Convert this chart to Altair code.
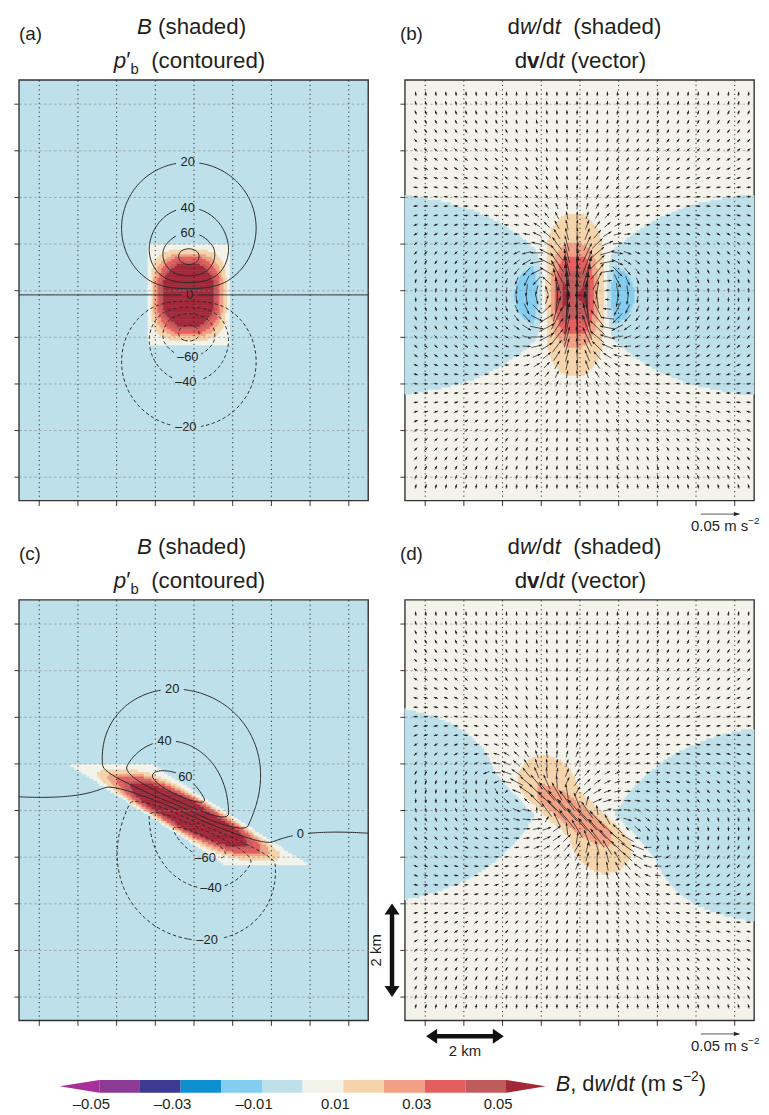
import numpy as np
import pandas as pd
import altair as alt
from collections import defaultdict

FONT = "Liberation Sans"
INK = "#231f20"
PW, PH = 352, 424

# ---------------- values ----------------
DOMAIN_KM = [0.0, 9.0]
GRID_KM = [0.5, 1.5, 2.5, 3.5, 4.5, 5.5, 6.5, 7.5, 8.5]
BOX_CENTER_KM = [4.38, 4.40]      # centre of the buoyant box (x, z)
BOX_HALF_KM = [1.06, 1.06]        # half width, half depth
MODEL_BOTTOM_KM = -0.10           # rigid levels (p' = 0) at -0.1 km and 8.9 km
MODEL_DEPTH_KM = 9.0
TILT_A = 0.0                      # upright box, panels (a, b)
TILT_C = -1.88                    # km of horizontal shift per km of height, panels (c, d)
B_PEAK = 0.097                    # m s-2
B_RAMP = 0.737                    # fraction of the half width over which B rises from 0
P_PEAK = 84.0                     # Pa, peak of p'_b in panel (a)
P_LEVELS = [-80, -60, -40, -20, 0, 20, 40, 60, 80]
P_LABELS_A = [(20, 4.35, 7.11), (40, 4.37, 6.11), (60, 4.37, 5.63), (0, 4.40, 4.37),
              (-60, 4.37, 3.10), (-40, 4.32, 2.53), (-20, 4.30, 1.55)]
P_LABELS_C = [(20, 3.94, 6.88), (40, 3.78, 5.77), (60, 4.24, 5.14), (0, 7.26, 3.86),
              (-60, 4.81, 3.52), (-40, 4.93, 2.85), (-20, 4.86, 1.78)]
THRESHOLDS = [-0.05, -0.04, -0.03, -0.02, -0.01, 0.0, 0.01, 0.02, 0.03, 0.04, 0.05]
PALETTE = ["#a8309a", "#8d3a96", "#3d3a91", "#0d8fd0", "#83cdf0", "#bde0eb",
           "#f4f3eb", "#f5d4ab", "#f1a084", "#e55e5e", "#c05b5b", "#a3283a"]
CBAR_LABELS = [-0.05, -0.03, -0.01, 0.01, 0.03, 0.05]
BG_BIN_B = 5      # colour of B <= 0  (panels a, c)
BG_BIN_W = 6      # colour of 0 < dw/dt <= 0.01 (panels b, d)
VEC_COL_START, VEC_COL_STEP, VEC_NCOL = 0.28, 0.26, 34
VEC_ROW_START, VEC_ROW_STEP, VEC_NROW = 0.30, 0.20, 43
VEC_REF = 0.05        # m s-2 reference vector
VEC_REF_PX = 39.0     # its length
VEC_MIN_PX = 4.5      # shortest drawn vector
REF_ARROW_KM = [8.13, -0.29]
SCALEBAR_V_KM = [-0.33, 0.5, 2.5]     # x, z0, z1
SCALEBAR_H_KM = [-0.34, 0.55, 2.55]   # z, x0, x1

PPX = PW / 9.0
PPZ = PH / 9.0

# ---------------- buoyancy pressure (2-D Poisson, p' = 0 on the rigid levels) ----------------
DX = 0.05
NXF, NZF = 540, 360
J_OFF = int(round(-MODEL_BOTTOM_KM / DX))
xf = -9.0 + DX * np.arange(NXF)
zm = DX * np.arange(NZF)
zfold = np.where(zm <= MODEL_DEPTH_KM, zm, 2 * MODEL_DEPTH_KM - zm) + MODEL_BOTTOM_KM
XF, ZF = np.meshgrid(xf, zfold)
kx = 2 * np.pi * np.fft.fftfreq(NXF, d=DX * 1000.0)
kz = 2 * np.pi * np.fft.fftfreq(NZF, d=DX * 1000.0)
KX, KZ = np.meshgrid(kx, kz)
K2 = KX ** 2 + KZ ** 2
K2[0, 0] = 1.0


def buoyancy(tilt):
    xs = XF - BOX_CENTER_KM[0] - tilt * (ZF - BOX_CENTER_KM[1])
    rx = np.clip((1 - np.abs(xs) / BOX_HALF_KM[0]) / B_RAMP, 0, 1)
    rz = np.clip((1 - np.abs(ZF - BOX_CENTER_KM[1]) / BOX_HALF_KM[1]) / B_RAMP, 0, 1)
    return B_PEAK * rx * rz


def solve(tilt):
    B = buoyancy(tilt)
    Bh = np.fft.fft2(B)
    p = np.real(np.fft.ifft2(-1j * KZ * Bh / K2))
    dpdz = np.real(np.fft.ifft2(KZ * KZ * Bh / K2))
    dpdx = np.real(np.fft.ifft2(KX * KZ * Bh / K2))
    sl = (slice(J_OFF, J_OFF + 181), slice(180, 361))
    return B[sl], p[sl], -dpdx[sl], (B - dpdz)[sl]


Ba, pa, axa, aza = solve(TILT_A)
Bc, pc, axc, azc = solve(TILT_C)
pscale = P_PEAK / pa.max()
pa = pa * pscale
pc = pc * pscale
XS = DX * np.arange(181)
ZS = DX * np.arange(181)
JTOP = int(round(MODEL_DEPTH_KM / DX)) - J_OFF   # display row of the upper rigid level

# ---------------- text metrics ----------------
CW = {' ': 278, '(': 333, ')': 333, '/': 278, ',': 278, '.': 278, '\u2013': 556, '\u2212': 584,
      '\u2032': 191, 'a': 556, 'b': 556, 'c': 500, 'd': 556, 'e': 556, 'h': 556, 'k': 500,
      'm': 833, 'n': 556, 'o': 556, 'p': 556, 'r': 333, 's': 500, 't': 278, 'u': 556,
      'v': 500, 'w': 722, 'B': 667}


def tw(t, size, weight="normal"):
    w = 0
    for ch in t:
        u = CW.get(ch, 556)
        if weight == "bold" and ch == 'v':
            u = 556
        w += u
    return w * size / 1000.0


ONE = pd.DataFrame({"k": [0]})


def runs(pieces, cx, cy, align="center"):
    total = sum(tw(t, s, w) for (t, s, st, w, dy) in pieces)
    x = cx - total / 2 if align == "center" else cx
    out = []
    for (t, s, st, w, dy) in pieces:
        if t.strip():
            out.append(alt.Chart(ONE).mark_text(text=t, font=FONT, fontSize=s, fontStyle=st,
                                                fontWeight=w, align="left", baseline="middle",
                                                color=INK)
                       .encode(x=alt.value(round(x, 2)), y=alt.value(round(cy + dy, 2))))
        x += tw(t, s, w)
    return out


# ---------------- shading, contours, vectors ----------------
def shade_rects(F, bg_bin):
    bins = np.searchsorted(np.array(THRESHOLDS), F, side="left")
    rows = []
    n = F.shape[1]
    for j in range(F.shape[0]):
        z0 = max(0.0, ZS[j] - DX / 2)
        z1 = min(9.0, ZS[j] + DX / 2)
        b = bins[j]
        s = 0
        for i in range(1, n + 1):
            if i == n or b[i] != b[s]:
                if b[s] != bg_bin:
                    rows.append((round(max(0.0, XS[s] - DX / 2), 4), round(min(9.0, XS[i - 1] + DX / 2), 4),
                                 round(z0, 4), round(z1, 4), int(b[s])))
                s = i
    return pd.DataFrame(rows, columns=["x", "x2", "y", "y2", "bin"])


def contour_segments(xs, zs, F, level):
    above = F > level
    a = above[:-1, :-1]
    b = above[:-1, 1:]
    c = above[1:, 1:]
    d = above[1:, :-1]
    code = a * 1 + b * 2 + c * 4 + d * 8
    js, iis = np.nonzero((code != 0) & (code != 15))
    segs = []
    for j, i in zip(js, iis):
        A, Bq, C, D = above[j, i], above[j, i + 1], above[j + 1, i + 1], above[j + 1, i]
        bottom, right, top, left = (0, j, i), (1, j, i + 1), (0, j + 1, i), (1, j, i)
        cr = []
        if A != Bq:
            cr.append(bottom)
        if Bq != C:
            cr.append(right)
        if C != D:
            cr.append(top)
        if D != A:
            cr.append(left)
        if len(cr) == 2:
            segs.append((cr[0], cr[1]))
        elif len(cr) == 4:
            cen = (F[j, i] + F[j, i + 1] + F[j + 1, i + 1] + F[j + 1, i]) / 4 > level
            if cen == A:
                segs += [(bottom, right), (top, left)]
            else:
                segs += [(left, bottom), (right, top)]
    pts = {}
    for sg in segs:
        for key in sg:
            if key in pts:
                continue
            kind, j, i = key
            if kind == 0:
                f0, f1 = F[j, i], F[j, i + 1]
                t = (level - f0) / (f1 - f0)
                pts[key] = (xs[i] + t * (xs[i + 1] - xs[i]), zs[j])
            else:
                f0, f1 = F[j, i], F[j + 1, i]
                t = (level - f0) / (f1 - f0)
                pts[key] = (xs[i], zs[j] + t * (zs[j + 1] - zs[j]))
    return segs, pts


def stitch(segs):
    adj = defaultdict(list)
    for k, (u, v) in enumerate(segs):
        adj[u].append(k)
        adj[v].append(k)
    used = [False] * len(segs)

    def walk(node):
        chain = [node]
        while True:
            nxt = None
            for k in adj[node]:
                if not used[k]:
                    nxt = k
                    break
            if nxt is None:
                break
            used[nxt] = True
            u, v = segs[nxt]
            node = v if u == node else u
            chain.append(node)
        return chain

    chains = []
    for node, ks in list(adj.items()):
        if len(ks) == 1 and not used[ks[0]]:
            chains.append(walk(node))
    for k in range(len(segs)):
        if not used[k]:
            chains.append(walk(segs[k][0]))
    return chains


def label_text(lv):
    return ("\u2013" + str(-lv)) if lv < 0 else str(lv)


def contour_data(P, labels):
    F = P[1:JTOP, :]
    zs = ZS[1:JTOP]
    lab = {lv: (lx, lz) for lv, lx, lz in labels}
    rows, lrows = [], []
    lid = 0
    for lv in P_LEVELS:
        segs, pts = contour_segments(XS, zs, F, lv)
        if not segs:
            continue
        chains = [np.array([pts[nd] for nd in ch]) for ch in stitch(segs)]
        cut = None
        if lv in lab:
            lx, lz = lab[lv]
            best = None
            for ch in chains:
                dd = np.hypot((ch[:, 0] - lx) * PPX, (ch[:, 1] - lz) * PPZ)
                k = int(np.argmin(dd))
                if best is None or dd[k] < best[0]:
                    best = (dd[k], ch[k, 0], ch[k, 1])
            txt = label_text(lv)
            cut = (best[1], best[2], tw(txt, 13) / 2 + 3)
            lrows.append({"x": round(best[1], 4), "y": round(best[2], 4), "txt": txt})
        for ch in chains:
            keep = np.ones(len(ch), bool)
            if cut is not None:
                keep = np.hypot((ch[:, 0] - cut[0]) * PPX, (ch[:, 1] - cut[1]) * PPZ) > cut[2]
            cur = []
            for q in range(len(ch) + 1):
                if q < len(ch) and keep[q]:
                    cur.append(ch[q])
                else:
                    if len(cur) >= 2:
                        for s_, pt in enumerate(cur):
                            rows.append({"x": round(pt[0], 4), "y": round(pt[1], 4), "lid": lid,
                                         "seq": s_, "neg": lv < 0})
                        lid += 1
                    cur = []
    return pd.DataFrame(rows), pd.DataFrame(lrows)


def bilinear(F, x, z):
    fi = x / DX
    fj = z / DX
    i = np.clip(np.floor(fi).astype(int), 0, 179)
    j = np.clip(np.floor(fj).astype(int), 0, 179)
    tx = fi - i
    tz = fj - j
    return (F[j, i] * (1 - tx) * (1 - tz) + F[j, i + 1] * tx * (1 - tz)
            + F[j + 1, i] * (1 - tx) * tz + F[j + 1, i + 1] * tx * tz)


def arrow_frame(cx, cz, ax, az):
    mag = np.hypot(ax, az)
    L = np.maximum(VEC_MIN_PX, mag / VEC_REF * VEC_REF_PX)
    ux = ax / np.maximum(mag, 1e-12)
    uz = az / np.maximum(mag, 1e-12)
    dxp = L * ux
    dzp = L * uz
    hl = np.clip(0.15 * L, 3.0, 6.0)
    return pd.DataFrame({
        "x": np.round(cx - dxp / 2 / PPX, 4), "y": np.round(cz - dzp / 2 / PPZ, 4),
        "x2": np.round(cx + dxp / 2 / PPX, 4), "y2": np.round(cz + dzp / 2 / PPZ, 4),
        "ang": np.round(np.degrees(np.arctan2(dxp, dzp)) % 360, 2),
        "hs": np.round(hl ** 2, 2)})


def vectors(AX, AZ):
    cols = VEC_COL_START + VEC_COL_STEP * np.arange(VEC_NCOL)
    rws = VEC_ROW_START + VEC_ROW_STEP * np.arange(VEC_NROW)
    CX, CZ = np.meshgrid(cols, rws)
    CX = CX.ravel()
    CZ = CZ.ravel()
    return arrow_frame(CX, CZ, bilinear(AX, CX, CZ), bilinear(AZ, CX, CZ))


# ---------------- encodings ----------------
XSCALE = alt.Scale(domain=DOMAIN_KM, nice=False, zero=False)
YSCALE = alt.Scale(domain=DOMAIN_KM, nice=False, zero=False)
XAXIS = alt.Axis(values=GRID_KM, labels=False, title=None, domain=False, ticks=True, tickSize=5,
                 tickColor="#333333", tickWidth=1, grid=True, gridColor="#111111",
                 gridDash=[1.2, 3.3], gridWidth=1, gridOpacity=0.85, zindex=1)
YAXIS = alt.Axis(values=GRID_KM, labels=False, title=None, domain=False, ticks=True, tickSize=5,
                 tickColor="#333333", tickWidth=1, grid=True, gridColor="#8a8a8a",
                 gridDash=[2.5, 2.5], gridWidth=0.8, gridOpacity=0.8, zindex=1)
CSCALE = alt.Scale(domain=list(range(12)), range=PALETTE)
HEAD = "M0,0L-0.75,2L0.75,2Z"
BIGHEAD = "M0,0L-1.1,1.6L1.1,1.6Z"


def xq(f):
    return alt.X(f"{f}:Q", scale=XSCALE, axis=XAXIS)


def yq(f):
    return alt.Y(f"{f}:Q", scale=YSCALE, axis=YAXIS)


def shading_layer(df):
    return alt.Chart(df).mark_rect(strokeWidth=0.6).encode(
        x=xq("x"), x2="x2", y=yq("y"), y2="y2",
        color=alt.Color("bin:O", scale=CSCALE, legend=None),
        stroke=alt.Stroke("bin:O", scale=CSCALE, legend=None))


def contour_layers(lines, labs):
    out = []
    pos = lines[~lines["neg"]]
    neg = lines[lines["neg"]]
    out.append(alt.Chart(pos).mark_line(color="#2b2b2b", strokeWidth=1.0).encode(
        x=xq("x"), y=yq("y"), detail="lid:N", order="seq:Q"))
    out.append(alt.Chart(neg).mark_line(color="#2b2b2b", strokeWidth=1.0, strokeDash=[3.5, 2.5]).encode(
        x=xq("x"), y=yq("y"), detail="lid:N", order="seq:Q"))
    out.append(alt.Chart(labs).mark_text(font=FONT, fontSize=13, color=INK).encode(
        x=xq("x"), y=yq("y"), text="txt:N"))
    return out


def arrow_layers(df, width=0.75):
    return [
        alt.Chart(df).mark_rule(color=INK, strokeWidth=width).encode(
            x=xq("x"), y=yq("y"), x2="x2", y2="y2"),
        alt.Chart(df).mark_point(shape=HEAD, filled=True, color=INK, opacity=1, strokeWidth=0).encode(
            x=xq("x2"), y=yq("y2"), angle=alt.Angle("ang:Q", scale=None),
            size=alt.Size("hs:Q", scale=None)),
    ]


def title_b(letter, dxl):
    L = runs([("(" + letter + ")", 19, "normal", "normal", 0)], dxl, -46.5, align="left")
    L += runs([("B", 22.5, "italic", "normal", 0), (" ", 22.5, "normal", "normal", 0),
               ("(shaded)", 22.5, "normal", "normal", 0)], 174, -53.5)
    L += runs([("p", 22.5, "italic", "normal", 0), ("\u2032", 22.5, "normal", "normal", -1),
               ("b", 15, "normal", "normal", 8), ("  ", 22.5, "normal", "normal", 0),
               ("(contoured)", 22.5, "normal", "normal", 0)], 172, -19)
    return L


def title_w(letter, dxl):
    L = runs([("(" + letter + ")", 19, "normal", "normal", 0)], dxl, -46.5, align="left")
    L += runs([("d", 22.5, "normal", "normal", 0), ("w", 22.5, "italic", "normal", 0),
               ("/d", 22.5, "normal", "normal", 0), ("t", 22.5, "italic", "normal", 0),
               ("  ", 22.5, "normal", "normal", 0), ("(shaded)", 22.5, "normal", "normal", 0)], 181, -53.5)
    L += runs([("d", 22.5, "normal", "normal", 0), ("v", 22.5, "normal", "bold", 0),
               ("/d", 22.5, "normal", "normal", 0), ("t", 22.5, "italic", "normal", 0),
               (" ", 22.5, "normal", "normal", 0), ("(vector)", 22.5, "normal", "normal", 0)], 177, -19)
    return L


def ref_arrow_layers():
    df = arrow_frame(np.array([REF_ARROW_KM[0]]), np.array([REF_ARROW_KM[1]]),
                     np.array([VEC_REF]), np.array([0.0]))
    L = arrow_layers(df)
    L += runs([("0.05 m s", 15, "normal", "normal", 0), ("\u22122", 10, "normal", "normal", -5)],
              323, PH + 26)
    return L


def panel(layers, bg):
    return alt.layer(*layers).properties(
        width=PW, height=PH, view=alt.ViewBackground(fill=bg, stroke="#333333", strokeWidth=1.4))


# panel (a)
la, laba = contour_data(pa, P_LABELS_A)
layers_a = [shading_layer(shade_rects(Ba, BG_BIN_B))] + contour_layers(la, laba) + title_b("a", 0)
layers_a.append(alt.Chart(ONE).mark_point(opacity=0, size=4).encode(x=alt.value(-9), y=alt.value(-66)))
pan_a = panel(layers_a, PALETTE[BG_BIN_B])

# panel (b)
layers_b = [shading_layer(shade_rects(aza, BG_BIN_W))] + arrow_layers(vectors(axa, aza)) \
    + title_w("b", -5) + ref_arrow_layers()
pan_b = panel(layers_b, PALETTE[BG_BIN_W])

# panel (c)
lc, labc = contour_data(pc, P_LABELS_C)
layers_c = [shading_layer(shade_rects(Bc, BG_BIN_B))] + contour_layers(lc, labc) + title_b("c", 0)
pan_c = panel(layers_c, PALETTE[BG_BIN_B])

# panel (d) with 2 km scale bars
sb_v = pd.DataFrame({"x": [SCALEBAR_V_KM[0]], "y": [SCALEBAR_V_KM[1] + 6 / PPZ],
                     "x2": [SCALEBAR_V_KM[0]], "y2": [SCALEBAR_V_KM[2] - 6 / PPZ]})
sb_h = pd.DataFrame({"x": [SCALEBAR_H_KM[1] + 6 / PPX], "y": [SCALEBAR_H_KM[0]],
                     "x2": [SCALEBAR_H_KM[2] - 6 / PPX], "y2": [SCALEBAR_H_KM[0]]})
sb_heads = pd.DataFrame({
    "x": [SCALEBAR_V_KM[0], SCALEBAR_V_KM[0], SCALEBAR_H_KM[1], SCALEBAR_H_KM[2]],
    "y": [SCALEBAR_V_KM[2], SCALEBAR_V_KM[1], SCALEBAR_H_KM[0], SCALEBAR_H_KM[0]],
    "ang": [0, 180, 270, 90]})
sb_text = pd.DataFrame({"x": [SCALEBAR_V_KM[0] - 0.40, (SCALEBAR_H_KM[1] + SCALEBAR_H_KM[2]) / 2],
                        "y": [(SCALEBAR_V_KM[1] + SCALEBAR_V_KM[2]) / 2, SCALEBAR_H_KM[0] - 0.31],
                        "txt": ["2 km", "2 km"], "rot": [270, 0]})
layers_d = [shading_layer(shade_rects(azc, BG_BIN_W))] + arrow_layers(vectors(axc, azc)) \
    + title_w("d", -5) + ref_arrow_layers()
layers_d += [
    alt.Chart(sb_v).mark_rule(color="#111111", strokeWidth=4.5).encode(x=xq("x"), y=yq("y"), x2="x2", y2="y2"),
    alt.Chart(sb_h).mark_rule(color="#111111", strokeWidth=4.5).encode(x=xq("x"), y=yq("y"), x2="x2", y2="y2"),
    alt.Chart(sb_heads).mark_point(shape=BIGHEAD, filled=True, color="#111111", opacity=1, size=190,
                                   strokeWidth=0).encode(x=xq("x"), y=yq("y"),
                                                         angle=alt.Angle("ang:Q", scale=None)),
    alt.Chart(sb_text[sb_text.rot == 270]).mark_text(font=FONT, fontSize=15, color=INK, angle=270).encode(
        x=xq("x"), y=yq("y"), text="txt:N"),
    alt.Chart(sb_text[sb_text.rot == 0]).mark_text(font=FONT, fontSize=15, color=INK).encode(
        x=xq("x"), y=yq("y"), text="txt:N"),
]
pan_d = panel(layers_d, PALETTE[BG_BIN_W])

# ---------------- colour bar (own scale; drawn above its 1-px-high cell) ----------------
ROW_GAP = 100
CB_TOP = (1082 - (74 + 2 * PH + ROW_GAP)) - ROW_GAP   # offset of the bar above its grid cell
CB_H = 13
CB_PX_PER_UNIT = 4100.0
CB0 = -0.05 - 81.0 / CB_PX_PER_UNIT
CB1 = CB0 + PW / CB_PX_PER_UNIT
CBX = alt.Scale(domain=[CB0, CB1], nice=False, zero=False)
cb_boxes = pd.DataFrame({"x": THRESHOLDS[:-1], "x2": THRESHOLDS[1:], "bin": list(range(1, 11))})
cb_ends = pd.DataFrame({"x": [THRESHOLDS[0], THRESHOLDS[-1]], "bin": [0, 11]})
cb_labs = pd.DataFrame({"x": CBAR_LABELS,
                        "txt": [("\u2013" if v < 0 else "") + f"{abs(v):.2f}" for v in CBAR_LABELS]})
cb_layers = [
    alt.Chart(cb_boxes).mark_rect().encode(
        x=alt.X("x:Q", scale=CBX, axis=None), x2="x2", y=alt.value(CB_TOP), y2=alt.value(CB_TOP + CB_H),
        color=alt.Color("bin:O", scale=CSCALE, legend=None)),
    alt.Chart(cb_ends[cb_ends.bin == 0]).mark_point(shape="M0,-0.325L-2,0L0,0.325Z", filled=True, size=1600,
                                                     opacity=1, strokeWidth=0).encode(
        x=alt.X("x:Q", scale=CBX, axis=None), y=alt.value(CB_TOP + CB_H / 2),
        color=alt.Color("bin:O", scale=CSCALE, legend=None)),
    alt.Chart(cb_ends[cb_ends.bin == 11]).mark_point(shape="M0,-0.325L2,0L0,0.325Z", filled=True, size=1600,
                                                      opacity=1, strokeWidth=0).encode(
        x=alt.X("x:Q", scale=CBX, axis=None), y=alt.value(CB_TOP + CB_H / 2),
        color=alt.Color("bin:O", scale=CSCALE, legend=None)),
    alt.Chart(cb_labs).mark_text(font=FONT, fontSize=15, color=INK, dx=-8, baseline="middle").encode(
        x=alt.X("x:Q", scale=CBX, axis=None), y=alt.value(CB_TOP + CB_H + 11), text="txt:N"),
]
cb_layers += runs([("B", 22, "italic", "normal", 0), (",", 22, "normal", "normal", 0),
                   (" ", 22, "normal", "normal", 0), ("d", 22, "normal", "normal", 0),
                   ("w", 22, "italic", "normal", 0), ("/d", 22, "normal", "normal", 0),
                   ("t", 22, "italic", "normal", 0), (" ", 22, "normal", "normal", 0),
                   ("(m", 22, "normal", "normal", 0), (" ", 22, "normal", "normal", 0),
                   ("s", 22, "normal", "normal", 0), ("\u22122", 14, "normal", "normal", -7),
                   (")", 22, "normal", "normal", 0)], 541, CB_TOP + CB_H / 2 - 2, align="left")
cbar = alt.layer(*cb_layers).properties(width=PW, height=1,
                                        view=alt.ViewBackground(strokeWidth=0, fill="transparent"))

chart = alt.concat(pan_a, pan_b, pan_c, pan_d, cbar, columns=2,
                   spacing={"row": ROW_GAP, "column": 37}, bounds="flush") \
    .properties(padding=0).configure_view(strokeWidth=0)

chart.save("out.html", embed_options={"renderer": "svg", "actions": False})
